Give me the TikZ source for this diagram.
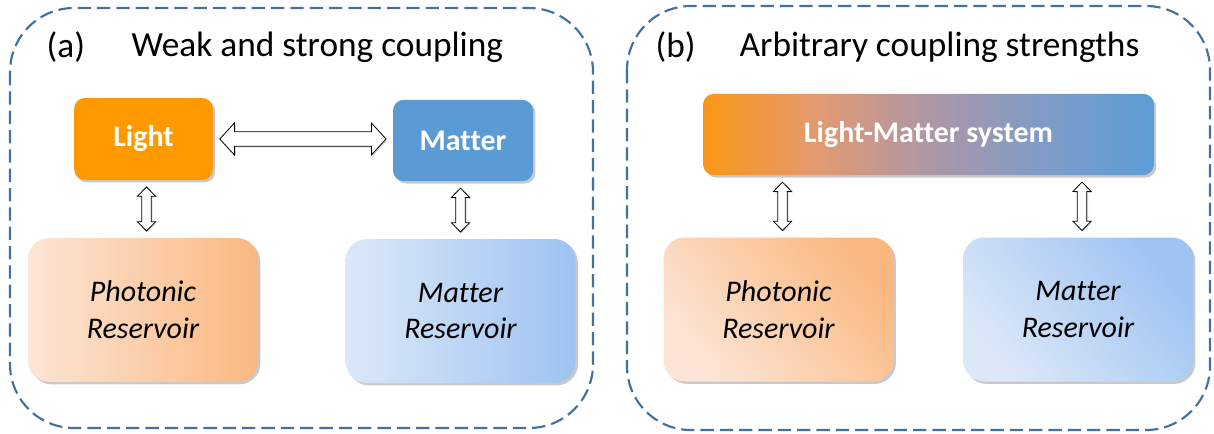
\documentclass[tikz,border=0pt]{standalone}
\usepackage{fontspec}
\setmainfont{Carlito}[Ligatures=NoCommon]
\usetikzlibrary{calc,shadows}

\definecolor{lightorange}{RGB}{255,153,0}
\definecolor{matterblue}{RGB}{91,155,213}
\definecolor{frameblue}{RGB}{65,113,156}
\definecolor{photonpale}{RGB}{252,229,214}
\definecolor{photondeep}{RGB}{250,184,128}
\definecolor{matterpale}{RGB}{220,232,248}
\definecolor{matterdeep}{RGB}{158,195,242}

% orange to blue blend of the light-matter box
\pgfdeclarehorizontalshading{lmshade}{100bp}{%
  rgb(0bp)=(0.98,0.59,0.08); rgb(25bp)=(0.98,0.59,0.08);
  rgb(37.5bp)=(0.89,0.60,0.44); rgb(50bp)=(0.68,0.59,0.65);
  rgb(62.5bp)=(0.50,0.61,0.78); rgb(75bp)=(0.36,0.61,0.84);
  rgb(100bp)=(0.36,0.61,0.84)}

% outlined double-headed block arrow between two points
\newcommand{\hollowdbl}[5]{%
  \path (#1) coordinate (hd-s) (#2) coordinate (hd-t);
  \path ($(hd-s)!5pt!(hd-t)$) coordinate (hd-a) ($(hd-t)!5pt!(hd-s)$) coordinate (hd-b);
  \path ($(hd-a)!#5!(hd-b)$) coordinate (hd-ha) ($(hd-b)!#5!(hd-a)$) coordinate (hd-hb);
  \draw[hollow] (hd-a) -- ($(hd-ha)!#4!90:(hd-b)$) -- ($(hd-ha)!#3!90:(hd-b)$)
    -- ($(hd-hb)!#3!-90:(hd-a)$) -- ($(hd-hb)!#4!-90:(hd-a)$) -- (hd-b)
    -- ($(hd-hb)!#4!90:(hd-a)$) -- ($(hd-hb)!#3!90:(hd-a)$)
    -- ($(hd-ha)!#3!-90:(hd-b)$) -- ($(hd-ha)!#4!-90:(hd-b)$) -- cycle;}

\begin{document}
\begin{tikzpicture}[x=0.75pt,y=-0.75pt,
  frame/.style={draw=frameblue, line width=1.6pt, dash pattern=on 10pt off 4.5pt, rounded corners=48pt},
  title/.style={anchor=west, font=\fontsize{26.5}{32}\selectfont},
  softshadow/.style={drop shadow={shadow xshift=1.8pt, shadow yshift=-1.8pt, opacity=0.3, fill=black!70}},
  core/.style={rounded corners=8pt, text=white, font=\fontsize{22.5}{27}\selectfont\bfseries, softshadow},
  reservoir/.style={rounded corners=16pt, minimum width=172.5pt, minimum height=108pt, align=center,
    font=\fontsize{22.5}{27.5}\selectfont\itshape, softshadow},
  hollow/.style={draw=black, fill=white, line width=0.6pt, line join=miter,
    drop shadow={shadow xshift=1pt, shadow yshift=-1pt, opacity=0.25}}]
\useasboundingbox (0,0) rectangle (1214,433);

% panel frames
\draw[frame] (10,8) rectangle (593,428);
\draw[frame] (627,6) rectangle (1210,430);

% (a) weak and strong coupling
\node[title] (labela) at (42,47) {(a)};
\node[title] (titlea) at (127,47) {Weak and strong coupling};
\node[core, fill=lightorange, minimum width=104pt, minimum height=61.5pt] (light) at (143.5,139) {Light};
\node[core, fill=matterblue, minimum width=105pt, minimum height=61pt] (matter) at (463,140.5) {Matter};
\node[reservoir, left color=photonpale, right color=photondeep] (phresa) at (143,310) {Photonic\\Reservoir};
\node[reservoir, left color=matterpale, right color=matterdeep] (mresa) at (460.5,311) {Matter\\Reservoir};
\coordinate (lightfoot) at ($(light.south)+(3,0)$);

\hollowdbl{light.east}{light.east -| matter.west}{5.4pt}{12pt}{11pt}
\hollowdbl{lightfoot}{lightfoot |- phresa.north}{3.5pt}{6.8pt}{7pt}
\hollowdbl{mresa.north |- matter.south}{mresa.north}{3.5pt}{6.8pt}{7pt}

% (b) arbitrary coupling strengths
\node[title] (labelb) at (651,47) {(b)};
\node[title] (titleb) at (735,47) {Arbitrary coupling strengths};
\node[core, shading=lmshade, minimum width=338pt, minimum height=61pt] (lmsys) at (928.5,134.5) {Light-Matter system};
\node[reservoir, top color=photondeep, bottom color=photonpale, shading angle=-50] (phresb) at (778.5,309.5) {Photonic\\Reservoir};
\node[reservoir, top color=matterdeep, bottom color=matterpale, shading angle=-50] (mresb) at (1078,309.5) {Matter\\Reservoir};
\coordinate (phtop) at ($(phresb.north)+(4,0)$);
\coordinate (mrtop) at ($(mresb.north)+(4,0)$);

\hollowdbl{phtop |- lmsys.south}{phtop}{3.5pt}{6.8pt}{7pt}
\hollowdbl{mrtop |- lmsys.south}{mrtop}{3.5pt}{6.8pt}{7pt}

\end{tikzpicture}
\end{document}
